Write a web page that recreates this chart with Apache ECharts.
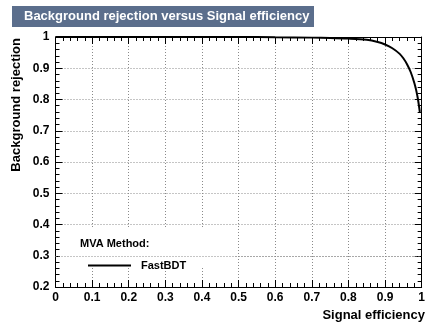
<!DOCTYPE html>
<html>
<head>
<meta charset="utf-8">
<script src="https://cdn.jsdelivr.net/npm/echarts@6/dist/echarts.min.js"></script>
<style>
  html, body { margin: 0; padding: 0; background: #fff; }
  #chart { width: 428px; height: 327px; }
</style>
</head>
<body>
<div id="chart"></div>
<script>
// ROC curve values
var sigEff = [0, 0.1, 0.2, 0.3, 0.4, 0.5, 0.6, 0.7, 0.75, 0.8, 0.85, 0.88, 0.9, 0.92, 0.94, 0.95, 0.96, 0.97, 0.98, 0.985, 0.99, 0.995];
var bkgRej = [1, 1, 1, 1, 1, 1, 0.999, 0.998, 0.997, 0.995, 0.991, 0.984, 0.976, 0.964, 0.946, 0.932, 0.913, 0.888, 0.853, 0.83, 0.80, 0.76];
var methodName = 'FastBDT';

var myChart = echarts.init(document.getElementById('chart'));
var font = 'Liberation Sans, Arial, Helvetica, sans-serif';

var points = sigEff.map(function (x, i) { return [x, bkgRej[i]]; });

var gridLine = { show: true, lineStyle: { color: '#8a8a8a', type: [1, 2], width: 1 } };
var axisLine = { show: true, onZero: false, lineStyle: { color: '#000', width: 1 } };
var tick = { show: true, inside: true, length: 7, lineStyle: { color: '#000' } };
var minor = { show: true, splitNumber: 5, length: 4, lineStyle: { color: '#000' } };

var option = {
    animation: false,
    backgroundColor: '#fff',
    grid: { left: 55.5, right: 3, top: 37, bottom: 40, containLabel: false },
    xAxis: [
        {
            type: 'value', min: 0, max: 1, interval: 0.1,
            axisLine: axisLine, axisTick: tick, minorTick: minor,
            splitLine: gridLine,
            axisLabel: { color: '#000', fontFamily: font, fontWeight: 'bold', fontSize: 12, margin: 5 }
        },
        {
            type: 'value', min: 0, max: 1, interval: 0.1, position: 'top',
            axisLine: axisLine, axisTick: tick, minorTick: minor,
            splitLine: { show: false }, axisLabel: { show: false }
        }
    ],
    yAxis: [
        {
            type: 'value', min: 0.2, max: 1, interval: 0.1,
            axisLine: axisLine, axisTick: tick, minorTick: minor,
            splitLine: gridLine,
            axisLabel: {
                color: '#000', fontFamily: font, fontWeight: 'bold', fontSize: 12, margin: 6,
                formatter: function (v) { return Math.round(v * 10) / 10 + ''; }
            }
        },
        {
            type: 'value', min: 0.2, max: 1, interval: 0.1, position: 'right',
            axisLine: axisLine, axisTick: tick, minorTick: minor,
            splitLine: { show: false }, axisLabel: { show: false }
        }
    ],
    legend: {
        left: 83, top: 255,
        itemWidth: 43, itemHeight: 14, itemGap: 4,
        icon: 'path://M0,0 L43,0 L43,2 L0,2 Z',
        textStyle: { color: '#000', fontFamily: font, fontWeight: 'bold', fontSize: 11, padding: [0, 0, 0, 5] },
        data: [methodName]
    },
    graphic: [
        {
            type: 'rect', z: 1, silent: true,
            shape: { x: 60, y: 229, width: 175, height: 37 },
            style: { fill: '#fff' }
        },
        {
            type: 'rect', z: 5,
            shape: { x: 12, y: 6, width: 302, height: 21 },
            style: { fill: '#5b6e8c' }
        },
        {
            type: 'text', z: 6, x: 24, y: 16.5,
            style: {
                text: 'Background rejection versus Signal efficiency',
                fill: '#fff', font: 'bold 13px ' + font, textVerticalAlign: 'middle'
            }
        },
        {
            type: 'text', z: 6, x: 16, y: 38, rotation: Math.PI / 2,
            style: {
                text: 'Background rejection', fill: '#000', font: 'bold 13px ' + font,
                textAlign: 'right', textVerticalAlign: 'middle'
            }
        },
        {
            type: 'text', z: 6, x: 425, y: 315,
            style: {
                text: 'Signal efficiency', fill: '#000', font: 'bold 13px ' + font,
                textAlign: 'right', textVerticalAlign: 'middle'
            }
        },
        {
            type: 'text', z: 6, x: 80, y: 244,
            style: {
                text: 'MVA Method:', fill: '#000', font: 'bold 11px ' + font,
                textVerticalAlign: 'middle'
            }
        }
    ],
    series: [
        {
            name: methodName,
            type: 'line',
            data: points,
            symbol: 'none',
            smooth: 0.3,
            z: 3,
            lineStyle: { color: '#000', width: 2 },
            itemStyle: { color: '#000' },
            markLine: {
                silent: true, symbol: 'none', z: 2,
                label: { show: false },
                lineStyle: { color: '#8a8a8a', type: [1, 2], width: 1 },
                data: [{ yAxis: 0.3 }]
            }
        }
    ]
};

myChart.setOption(option);
</script>
</body>
</html>
